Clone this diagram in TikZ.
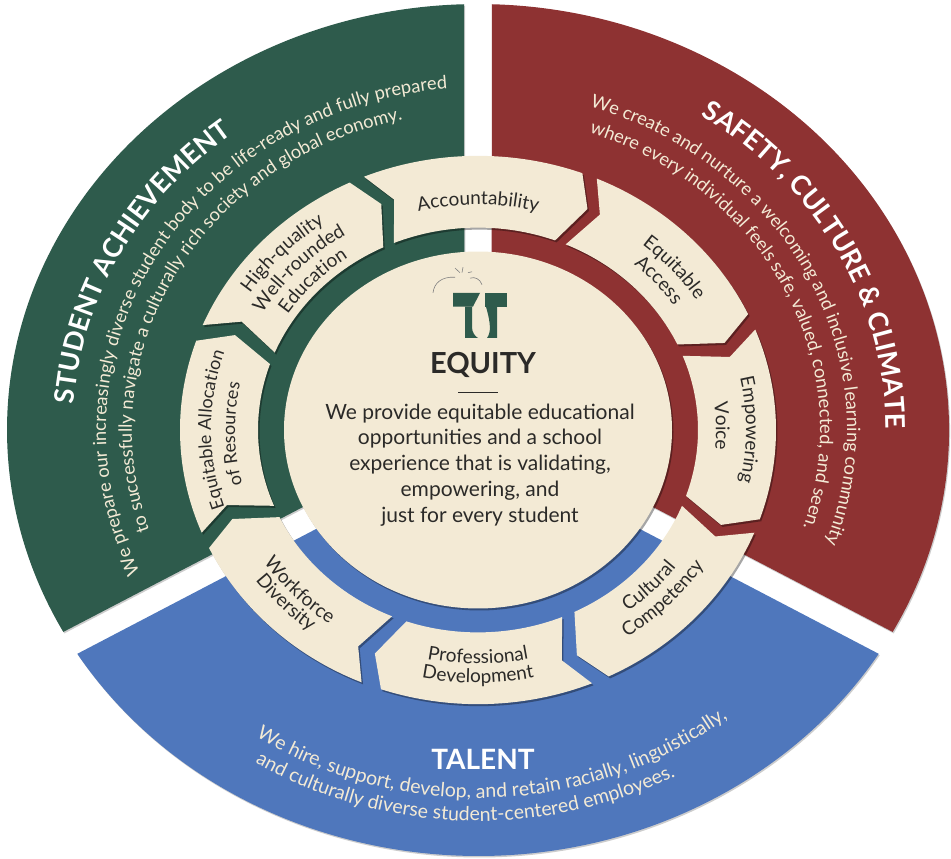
\documentclass[tikz,border=0pt]{standalone}
\usepackage{fontspec}
\setmainfont{Lato}
\usetikzlibrary{decorations.text,shadows}
\definecolor{secgreen}{HTML}{2E5B4C}
\definecolor{secred}{HTML}{8E3232}
\definecolor{secblue}{HTML}{4F77BC}
\definecolor{ringcream}{HTML}{F3EAD5}
\definecolor{inkdark}{HTML}{2B2A28}
\tikzset{
    sectorpiece/.style={drop shadow={shadow xshift=1pt,shadow yshift=-1.5pt,opacity=.2,fill=black}},
    ringpiece/.style={fill=ringcream,drop shadow={shadow xshift=1.5pt,shadow yshift=-2pt,opacity=.35,fill=black}}
}
\newcommand{\ringfont}{\fontsize{19}{22}\selectfont\color{inkdark}}
\newcommand{\ringsmall}{\fontsize{18}{22}\selectfont\color{inkdark}}
\newcommand{\bodyfont}{\fontsize{18.3}{22}\selectfont\color{ringcream}}
\newcommand{\talentfont}{\fontsize{19.5}{22}\selectfont\color{ringcream}}
\newcommand{\headfont}{\fontsize{27}{30}\selectfont\bfseries\color{white}}
% radius, start angle, end angle, font, text
\newcommand{\arclabel}[5]{\path[decorate,decoration={text along path,text align=center,text={|#4|#5}}]
    (#2:#1) arc[start angle=#2,end angle=#3,radius=#1];}
\begin{document}
\begin{tikzpicture}[x=1pt,y=.92pt]
    \useasboundingbox (0,0) rectangle (951,933.7);
    \begin{scope}[shift={(478,466.3)}]
        % outer sectors
        \foreach \col/\mid/\a/\b in {secgreen/150/91.7/208.3,secred/30/-28.3/88.3,secblue/270/211.7/328.3}
            \path[sectorpiece,fill=\col] (\mid:15.6) -- ({471*cos(\a)},{463*sin(\a)})
                arc[start angle=\a,end angle=\b,x radius=471,y radius=463] -- cycle;
        % ring pieces
        \foreach \t/\h in {112.5/69.5,66.5/25,21.5/-19,-22/-64,-67.5/-109,-113/-154.5,-158/-199,157.5/115.5}
            \path[ringpiece] (\t:298) arc[start angle=\t,end angle=\h,radius=298] -- ({\h-4}:264)
                -- (\h:220) arc[start angle=\h,end angle=\t,radius=220] -- ({\t-4}:264) -- cycle;
        \path[ringpiece] (0,0) ellipse[x radius=194,y radius=194];
        % logo
        \begin{scope}[fill=secgreen]
            \fill (-25,149) -- (2,149) .. controls (-2,140) and (-4,137) .. (-5,134) -- (-25,134) -- cycle;
            \fill (-13,134) -- (-6,134) -- (-6,112) .. controls (-6,106) and (-3,102) .. (0,100) -- (-13,100) -- cycle;
            \fill (7,149) -- (29,149) -- (29,134) -- (7,134) -- cycle;
            \fill (8,134) -- (19,134) -- (19,100) -- (9,100) .. controls (13,106) and (13,115) .. (8,134) -- cycle;
        \end{scope}
        \begin{scope}[draw=gray,line width=.6pt]
            \draw (-45,149) .. controls (-44,160) and (-36,167) .. (-23,166);
            \draw (-8,165) .. controls (-3,167) and (2,164) .. (4,158);
            \draw (-23,176) -- (-18,171);
            \draw (-15,177) -- (-16,171);
            \draw (-6,172) -- (-10,171);
        \end{scope}
        \node (equity) at (5,71) {\fontsize{29}{30}\selectfont\bfseries\color{inkdark}EQUITY};
        \draw[inkdark,line width=.5pt] (-20,41) -- (20,41);
        \node (statement) at (2,-38) [align=center,text=inkdark,font=\fontsize{21}{25.8}\selectfont] {We provide equitable educational\\opportunities and a school\\experience that is validating,\\empowering, and\\just for every student};
        \node (talent) at (5,-358) {\fontsize{28}{30}\selectfont\bfseries\color{white}TALENT};
        % sector texts
        \arclabel{405}{202.5}{102.5}{\headfont}{STUDENT ACHIEVEMENT}
        \arclabel{372}{215}{85}{\bodyfont}{We prepare our increasingly diverse student body to be life-ready and fully prepared}
        \arclabel{346}{216}{86}{\bodyfont}{to successfully navigate a culturally rich society and global economy.}
        \arclabel{408}{73}{-17}{\headfont}{SAFETY, CULTURE {\&} CLIMATE}
        \arclabel{369}{86}{-34}{\bodyfont}{We create and nurture a welcoming and inclusive learning community}
        \arclabel{342}{86}{-34}{\bodyfont}{where every individual feels safe, valued, connected, and seen.}
        \arclabel{400}{224}{321}{\talentfont}{We hire, support, develop, and retain racially, linguistically,}
        \arclabel{425}{220}{316}{\talentfont}{and culturally diverse student-centered employees.}
        % ring texts
        \arclabel{245}{115}{65}{\ringfont}{Accountability}
        \arclabel{260}{66.5}{16.5}{\ringfont}{Equitable}
        \arclabel{238}{66.5}{16.5}{\ringfont}{Access}
        \arclabel{268}{25}{-25}{\ringfont}{Empowering}
        \arclabel{238}{26}{-24}{\ringfont}{Voice}
        \arclabel{248}{-69.5}{-19.5}{\ringfont}{Cultural}
        \arclabel{270}{-69.5}{-19.5}{\ringfont}{Competency}
        \arclabel{254}{-115}{-65}{\ringfont}{Professional}
        \arclabel{275}{-115}{-65}{\ringfont}{Development}
        \arclabel{258}{-161}{-111}{\ringfont}{Workforce}
        \arclabel{276}{-161}{-111}{\ringfont}{Diversity}
        \arclabel{267}{-150}{-210}{\ringsmall}{Equitable Allocation}
        \arclabel{243}{-149}{-209}{\ringsmall}{of Resources}
        \arclabel{272}{161}{111}{\ringfont}{High-quality}
        \arclabel{250}{161}{111}{\ringfont}{Well-rounded}
        \arclabel{228}{161}{111}{\ringfont}{Education}
    \end{scope}
\end{tikzpicture}
\end{document}
